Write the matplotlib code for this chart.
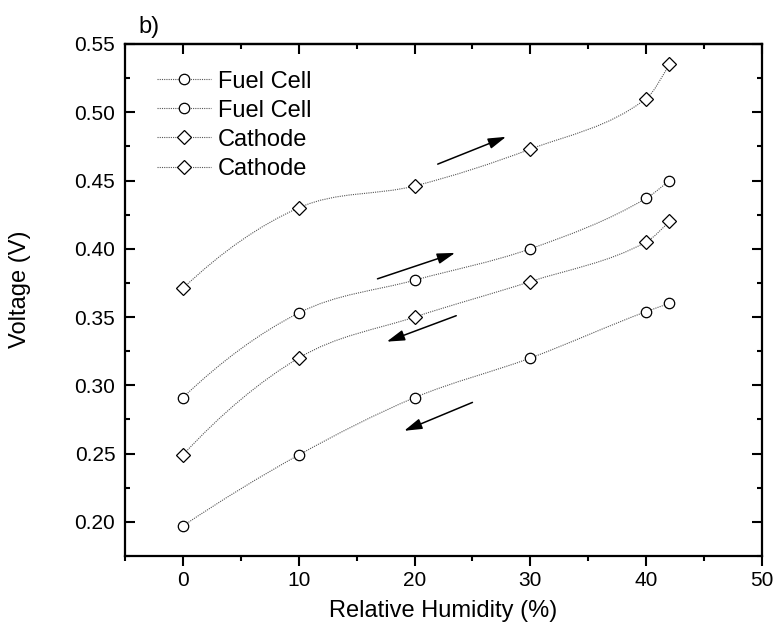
import numpy as np
import matplotlib
matplotlib.use("Agg")
import matplotlib.pyplot as plt
from matplotlib.path import Path
from matplotlib.patches import PathPatch
from matplotlib.lines import Line2D
from matplotlib.ticker import MultipleLocator, FormatStrFormatter

plt.rcParams["font.family"] = ["Liberation Sans", "DejaVu Sans"]

# relative humidity (%)
rh = [0, 10, 20, 30, 40, 42]

# voltages (V)
fc_up = [0.291, 0.353, 0.377, 0.400, 0.437, 0.450]
fc_down = [0.197, 0.249, 0.291, 0.320, 0.354, 0.360]
cat_up = [0.371, 0.430, 0.446, 0.473, 0.510, 0.535]
cat_down = [0.249, 0.320, 0.350, 0.376, 0.405, 0.420]

series = [
    ("Fuel Cell", fc_up, "o"),
    ("Fuel Cell", fc_down, "o"),
    ("Cathode", cat_up, "D"),
    ("Cathode", cat_down, "D"),
]

# direction arrows: (tail, head) in data coords
arrows = [
    ((22.0, 0.462), (27.9, 0.482)),
    ((16.8, 0.378), (23.5, 0.397)),
    ((23.6, 0.351), (17.6, 0.332)),
    ((25.0, 0.2875), (19.1, 0.2667)),
]

line_kw = dict(color="#555555", lw=0.8, linestyle=(0, (1, 1)))


def spline_path(x, y):
    # smooth connecting curve: hermite tangents, each segment drawn as a bezier
    x = np.asarray(x, float)
    y = np.asarray(y, float)
    n = len(x)
    h = np.diff(x)
    d = np.diff(y) / h
    m = np.zeros(n)
    for i in range(1, n - 1):
        if h[i] == h[i - 1]:
            m[i] = (d[i - 1] + d[i]) / 2
        elif d[i - 1] * d[i] > 0:
            w1 = 2 * h[i] + h[i - 1]
            w2 = h[i] + 2 * h[i - 1]
            m[i] = (w1 + w2) / (w1 / d[i - 1] + w2 / d[i])
    m[0] = ((2 * h[0] + h[1]) * d[0] - h[0] * d[1]) / (h[0] + h[1])
    m[-1] = ((2 * h[-1] + h[-2]) * d[-1] - h[-1] * d[-2]) / (h[-1] + h[-2])
    verts = [(x[0], y[0])]
    codes = [Path.MOVETO]
    for i in range(n - 1):
        verts += [(x[i] + h[i] / 3, y[i] + m[i] * h[i] / 3),
                  (x[i + 1] - h[i] / 3, y[i + 1] - m[i + 1] * h[i] / 3),
                  (x[i + 1], y[i + 1])]
        codes += [Path.CURVE4] * 3
    return Path(verts, codes)


fig = plt.figure(figsize=(7.74, 6.28), dpi=100)
ax = fig.add_axes([0.1615, 0.1146, 0.823, 0.8154])

handles = []
for label, vals, mk in series:
    ax.add_patch(PathPatch(spline_path(rh, vals), fill=False, zorder=2, **line_kw))
    ms = 7.5 if mk == "o" else 7
    ax.plot(rh, vals, linestyle="none", marker=mk, markersize=ms,
            markerfacecolor="white", markeredgecolor="black",
            markeredgewidth=0.9, zorder=3)
    handles.append(Line2D([], [], marker=mk, markersize=ms,
                          markerfacecolor="white", markeredgecolor="black",
                          markeredgewidth=0.9, label=label, **line_kw))

for tail, head in arrows:
    ax.annotate("", xy=head, xytext=tail,
                arrowprops=dict(arrowstyle="-|>,head_length=0.6,head_width=0.18",
                                color="black", lw=1.1, mutation_scale=18,
                                shrinkA=0, shrinkB=0))

ax.set_xlim(-5, 50)
ax.set_ylim(0.175, 0.55)
ax.xaxis.set_major_locator(MultipleLocator(10))
ax.xaxis.set_minor_locator(MultipleLocator(5))
ax.yaxis.set_major_locator(MultipleLocator(0.05))
ax.yaxis.set_minor_locator(MultipleLocator(0.025))
ax.yaxis.set_major_formatter(FormatStrFormatter("%.2f"))

for sp in ax.spines.values():
    sp.set_linewidth(1.6)

ax.tick_params(axis="x", which="both", direction="out", top=False, labelsize=15, pad=4)
ax.tick_params(axis="y", which="both", direction="in", right=True, labelsize=15, pad=7)
ax.tick_params(which="major", length=7, width=1.5)
ax.tick_params(which="minor", length=3.5, width=1.5)

# top axis: inward ticks, no labels
top = ax.secondary_xaxis("top")
top.xaxis.set_major_locator(MultipleLocator(10))
top.xaxis.set_minor_locator(MultipleLocator(5))
top.tick_params(which="both", direction="in", labeltop=False, width=1.5)
top.tick_params(which="major", length=7)
top.tick_params(which="minor", length=3.5)
top.spines["top"].set_linewidth(1.6)

ax.set_xlabel("Relative Humidity (%)", fontsize=17)
ax.set_ylabel("Voltage (V)", fontsize=17)
ax.xaxis.set_label_coords(0.5, -0.086)
ax.yaxis.set_label_coords(-0.148, 0.521)

ax.legend(handles=handles, loc="upper left", bbox_to_anchor=(0.05, 0.948),
          frameon=False, fontsize=17, handlelength=2.3, handletextpad=0.3,
          labelspacing=0.3, borderpad=0, borderaxespad=0, numpoints=1)

fig.text(138 / 774, 1 - 33 / 628, "b)", fontsize=17, va="baseline")

fig.savefig("out.png", dpi=100)
